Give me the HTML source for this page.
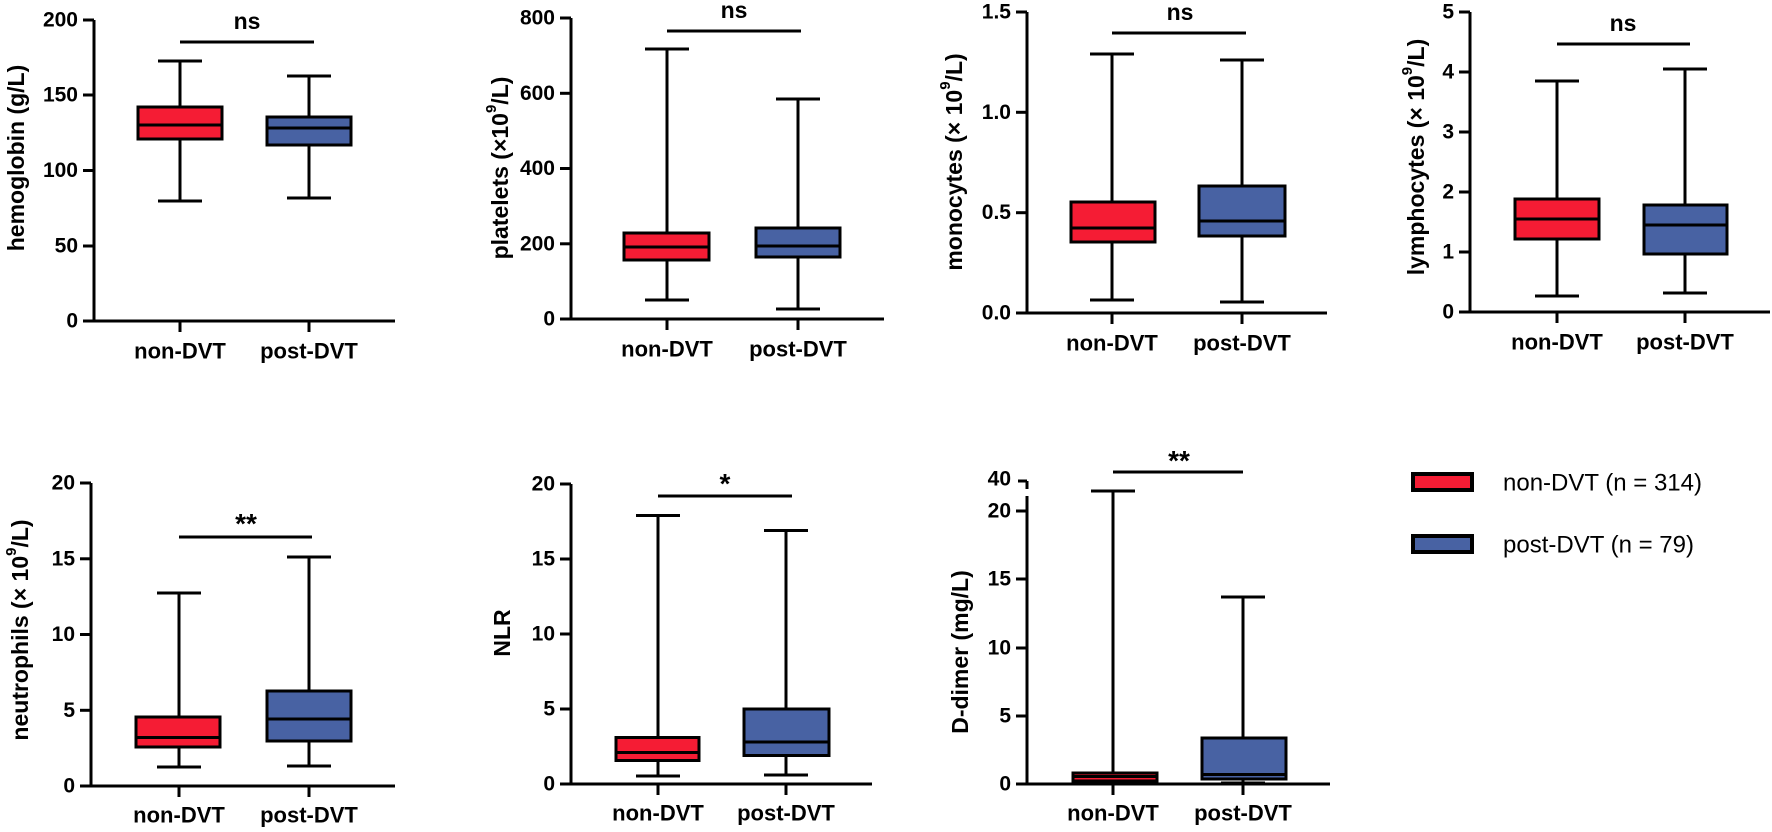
<!DOCTYPE html>
<html><head><meta charset="utf-8"><style>
html,body{margin:0;padding:0;background:#fff;}
svg{display:block;}
text{font-family:"Liberation Sans",Arial,sans-serif;font-weight:bold;fill:#000;}
.t{font-size:21px;text-anchor:end;dominant-baseline:central;}
.c{font-size:22px;text-anchor:middle;dominant-baseline:central;}
.yl{font-size:23px;text-anchor:middle;dominant-baseline:central;}
.s{font-size:23px;text-anchor:middle;}
.st{font-size:28px;text-anchor:middle;}
.lg{font-size:24px;font-weight:normal;dominant-baseline:central;}
line,path{stroke:#000;stroke-width:3;fill:none;}
.r{fill:#F51C34;stroke:#000;stroke-width:3;}
.b{fill:#4862A3;stroke:#000;stroke-width:3;}
</style></head><body>
<svg width="1772" height="832" viewBox="0 0 1772 832" xmlns="http://www.w3.org/2000/svg">

<!-- P1 hemoglobin -->
<g>
<line x1="94" y1="20" x2="94" y2="321"/>
<line x1="83" y1="321" x2="395" y2="321"/>
<line x1="83" y1="20" x2="94" y2="20"/><line x1="83" y1="95" x2="94" y2="95"/><line x1="83" y1="170.5" x2="94" y2="170.5"/><line x1="83" y1="246" x2="94" y2="246"/>
<line x1="180" y1="321" x2="180" y2="332"/><line x1="309" y1="321" x2="309" y2="332"/>
<text class="t" x="78" y="20">200</text><text class="t" x="78" y="95">150</text><text class="t" x="78" y="170.5">100</text><text class="t" x="78" y="246">50</text><text class="t" x="78" y="321">0</text>
<text class="c" x="180" y="351">non-DVT</text><text class="c" x="309" y="351">post-DVT</text>
<text class="yl" transform="translate(16,158) rotate(-90)">hemoglobin (g/L)</text>
<line x1="180" y1="61" x2="180" y2="201"/><line x1="158" y1="61" x2="202" y2="61"/><line x1="158" y1="201" x2="202" y2="201"/>
<rect class="r" x="138" y="107" width="84" height="32"/><line x1="138" y1="125" x2="222" y2="125"/>
<line x1="309" y1="76" x2="309" y2="198"/><line x1="287" y1="76" x2="331" y2="76"/><line x1="287" y1="198" x2="331" y2="198"/>
<rect class="b" x="267" y="117" width="84" height="28"/><line x1="267" y1="128" x2="351" y2="128"/>
<line x1="180" y1="42" x2="314" y2="42"/><text class="s" x="247" y="29">ns</text>
</g>

<!-- P2 platelets -->
<g>
<line x1="571" y1="18" x2="571" y2="319"/>
<line x1="560" y1="319" x2="884" y2="319"/>
<line x1="560" y1="18" x2="571" y2="18"/><line x1="560" y1="93.3" x2="571" y2="93.3"/><line x1="560" y1="168.5" x2="571" y2="168.5"/><line x1="560" y1="243.8" x2="571" y2="243.8"/>
<line x1="667" y1="319" x2="667" y2="330"/><line x1="798" y1="319" x2="798" y2="330"/>
<text class="t" x="555" y="18">800</text><text class="t" x="555" y="93.3">600</text><text class="t" x="555" y="168.5">400</text><text class="t" x="555" y="243.8">200</text><text class="t" x="555" y="319">0</text>
<text class="c" x="667" y="349">non-DVT</text><text class="c" x="798" y="349">post-DVT</text>
<text class="yl" transform="translate(500,168) rotate(-90)">platelets (×10<tspan font-size="15" dy="-9">9</tspan><tspan dy="9">/L)</tspan></text>
<line x1="667" y1="49" x2="667" y2="300"/><line x1="645" y1="49" x2="689" y2="49"/><line x1="645" y1="300" x2="689" y2="300"/>
<rect class="r" x="624" y="233" width="85" height="27"/><line x1="624" y1="247" x2="709" y2="247"/>
<line x1="798" y1="99" x2="798" y2="309"/><line x1="776" y1="99" x2="820" y2="99"/><line x1="776" y1="309" x2="820" y2="309"/>
<rect class="b" x="756" y="228" width="84" height="29"/><line x1="756" y1="246" x2="840" y2="246"/>
<line x1="667" y1="31" x2="801" y2="31"/><text class="s" x="734" y="18">ns</text>
</g>

<!-- P3 monocytes -->
<g>
<line x1="1027" y1="12" x2="1027" y2="313"/>
<line x1="1016" y1="313" x2="1327" y2="313"/>
<line x1="1016" y1="12" x2="1027" y2="12"/><line x1="1016" y1="112.3" x2="1027" y2="112.3"/><line x1="1016" y1="212.7" x2="1027" y2="212.7"/>
<line x1="1112" y1="313" x2="1112" y2="324"/><line x1="1242" y1="313" x2="1242" y2="324"/>
<text class="t" x="1011" y="12">1.5</text><text class="t" x="1011" y="112.3">1.0</text><text class="t" x="1011" y="212.7">0.5</text><text class="t" x="1011" y="313">0.0</text>
<text class="c" x="1112" y="343">non-DVT</text><text class="c" x="1242" y="343">post-DVT</text>
<text class="yl" transform="translate(954,162) rotate(-90)">monocytes (× 10<tspan font-size="15" dy="-9">9</tspan><tspan dy="9">/L)</tspan></text>
<line x1="1112" y1="54" x2="1112" y2="300"/><line x1="1090" y1="54" x2="1134" y2="54"/><line x1="1090" y1="300" x2="1134" y2="300"/>
<rect class="r" x="1071" y="202" width="84" height="40"/><line x1="1071" y1="228" x2="1155" y2="228"/>
<line x1="1242" y1="60" x2="1242" y2="302"/><line x1="1220" y1="60" x2="1264" y2="60"/><line x1="1220" y1="302" x2="1264" y2="302"/>
<rect class="b" x="1199" y="186" width="86" height="50"/><line x1="1199" y1="221" x2="1285" y2="221"/>
<line x1="1112" y1="33" x2="1246" y2="33"/><text class="s" x="1180" y="20">ns</text>
</g>

<!-- P4 lymphocytes -->
<g>
<line x1="1470" y1="12" x2="1470" y2="312"/>
<line x1="1459" y1="312" x2="1770" y2="312"/>
<line x1="1459" y1="12" x2="1470" y2="12"/><line x1="1459" y1="72" x2="1470" y2="72"/><line x1="1459" y1="132" x2="1470" y2="132"/><line x1="1459" y1="192" x2="1470" y2="192"/><line x1="1459" y1="252" x2="1470" y2="252"/>
<line x1="1557" y1="312" x2="1557" y2="323"/><line x1="1685" y1="312" x2="1685" y2="323"/>
<text class="t" x="1454" y="12">5</text><text class="t" x="1454" y="72">4</text><text class="t" x="1454" y="132">3</text><text class="t" x="1454" y="192">2</text><text class="t" x="1454" y="252">1</text><text class="t" x="1454" y="312">0</text>
<text class="c" x="1557" y="342">non-DVT</text><text class="c" x="1685" y="342">post-DVT</text>
<text class="yl" transform="translate(1416,157) rotate(-90)">lymphocytes (× 10<tspan font-size="15" dy="-9">9</tspan><tspan dy="9">/L)</tspan></text>
<line x1="1557" y1="81" x2="1557" y2="296"/><line x1="1535" y1="81" x2="1579" y2="81"/><line x1="1535" y1="296" x2="1579" y2="296"/>
<rect class="r" x="1515" y="199" width="84" height="40"/><line x1="1515" y1="219" x2="1599" y2="219"/>
<line x1="1685" y1="69" x2="1685" y2="293"/><line x1="1663" y1="69" x2="1707" y2="69"/><line x1="1663" y1="293" x2="1707" y2="293"/>
<rect class="b" x="1644" y="205" width="83" height="49"/><line x1="1644" y1="225" x2="1727" y2="225"/>
<line x1="1557" y1="44" x2="1690" y2="44"/><text class="s" x="1623" y="31">ns</text>
</g>

<!-- P5 neutrophils -->
<g>
<line x1="91" y1="483" x2="91" y2="786"/>
<line x1="80" y1="786" x2="395" y2="786"/>
<line x1="80" y1="483" x2="91" y2="483"/><line x1="80" y1="558.8" x2="91" y2="558.8"/><line x1="80" y1="634.5" x2="91" y2="634.5"/><line x1="80" y1="710.3" x2="91" y2="710.3"/>
<line x1="179" y1="786" x2="179" y2="797"/><line x1="309" y1="786" x2="309" y2="797"/>
<text class="t" x="75" y="483">20</text><text class="t" x="75" y="558.8">15</text><text class="t" x="75" y="634.5">10</text><text class="t" x="75" y="710.3">5</text><text class="t" x="75" y="786">0</text>
<text class="c" x="179" y="815">non-DVT</text><text class="c" x="309" y="815">post-DVT</text>
<text class="yl" transform="translate(20,630) rotate(-90)">neutrophils (× 10<tspan font-size="15" dy="-9">9</tspan><tspan dy="9">/L)</tspan></text>
<line x1="179" y1="593" x2="179" y2="767"/><line x1="157" y1="593" x2="201" y2="593"/><line x1="157" y1="767" x2="201" y2="767"/>
<rect class="r" x="136" y="717" width="84" height="30"/><line x1="136" y1="737.5" x2="220" y2="737.5"/>
<line x1="309" y1="557" x2="309" y2="766"/><line x1="287" y1="557" x2="331" y2="557"/><line x1="287" y1="766" x2="331" y2="766"/>
<rect class="b" x="267" y="691" width="84" height="50"/><line x1="267" y1="719" x2="351" y2="719"/>
<line x1="179" y1="537" x2="312" y2="537"/><text class="st" x="246" y="533">**</text>
</g>

<!-- P6 NLR -->
<g>
<line x1="571" y1="484" x2="571" y2="784"/>
<line x1="560" y1="784" x2="872" y2="784"/>
<line x1="560" y1="484" x2="571" y2="484"/><line x1="560" y1="559" x2="571" y2="559"/><line x1="560" y1="634" x2="571" y2="634"/><line x1="560" y1="709" x2="571" y2="709"/>
<line x1="658" y1="784" x2="658" y2="795"/><line x1="786" y1="784" x2="786" y2="795"/>
<text class="t" x="555" y="484">20</text><text class="t" x="555" y="559">15</text><text class="t" x="555" y="634">10</text><text class="t" x="555" y="709">5</text><text class="t" x="555" y="784">0</text>
<text class="c" x="658" y="813">non-DVT</text><text class="c" x="786" y="813">post-DVT</text>
<text class="yl" transform="translate(502,633) rotate(-90)">NLR</text>
<line x1="658" y1="515.5" x2="658" y2="776"/><line x1="636" y1="515.5" x2="680" y2="515.5"/><line x1="636" y1="776" x2="680" y2="776"/>
<rect class="r" x="616" y="737.5" width="83" height="23"/><line x1="616" y1="752.5" x2="699" y2="752.5"/>
<line x1="786" y1="530.5" x2="786" y2="775"/><line x1="764" y1="530.5" x2="808" y2="530.5"/><line x1="764" y1="775" x2="808" y2="775"/>
<rect class="b" x="744" y="709" width="85" height="46.5"/><line x1="744" y1="742" x2="829" y2="742"/>
<line x1="658" y1="496" x2="792" y2="496"/><text class="st" x="725" y="493">*</text>
</g>

<!-- P7 D-dimer -->
<g>
<line x1="1027" y1="481" x2="1027" y2="489"/>
<line x1="1027" y1="496" x2="1027" y2="784"/>
<line x1="1016" y1="784" x2="1330" y2="784"/>
<line x1="1018" y1="481" x2="1027" y2="481"/><line x1="1016" y1="511" x2="1027" y2="511"/><line x1="1016" y1="579" x2="1027" y2="579"/><line x1="1016" y1="648" x2="1027" y2="648"/><line x1="1016" y1="716" x2="1027" y2="716"/>
<line x1="1113" y1="784" x2="1113" y2="795"/><line x1="1243" y1="784" x2="1243" y2="795"/>
<text class="t" x="1011" y="479">40</text><text class="t" x="1011" y="511">20</text><text class="t" x="1011" y="579">15</text><text class="t" x="1011" y="648">10</text><text class="t" x="1011" y="716">5</text><text class="t" x="1011" y="784">0</text>
<text class="c" x="1113" y="813">non-DVT</text><text class="c" x="1243" y="813">post-DVT</text>
<text class="yl" transform="translate(960,652) rotate(-90)">D-dimer (mg/L)</text>
<line x1="1113" y1="491" x2="1113" y2="783"/><line x1="1091" y1="491" x2="1135" y2="491"/><line x1="1091" y1="783" x2="1135" y2="783"/>
<rect class="r" x="1073" y="773" width="84" height="8"/><line x1="1073" y1="776.5" x2="1157" y2="776.5" stroke-width="2"/>
<line x1="1243" y1="597" x2="1243" y2="783"/><line x1="1221" y1="597" x2="1265" y2="597"/><line x1="1221" y1="783" x2="1265" y2="783"/>
<rect class="b" x="1202" y="738" width="84" height="41"/><line x1="1202" y1="774.5" x2="1286" y2="774.5" stroke-width="2"/>
<line x1="1113" y1="472" x2="1243" y2="472"/><text class="st" x="1179" y="470">**</text>
</g>

<!-- legend -->
<rect x="1413" y="474" width="59" height="16" fill="#F51C34" stroke="#000" stroke-width="4"/>
<text class="lg" x="1503" y="483">non-DVT (n = 314)</text>
<rect x="1413" y="536" width="59" height="16" fill="#4862A3" stroke="#000" stroke-width="4"/>
<text class="lg" x="1503" y="545">post-DVT (n = 79)</text>
</svg>
</body></html>
